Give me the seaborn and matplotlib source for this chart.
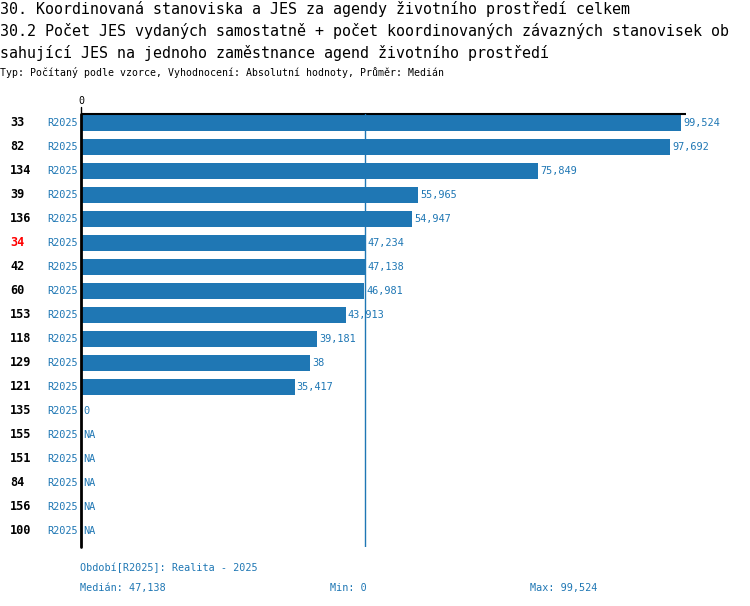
import numpy as np
import pandas as pd
import matplotlib
matplotlib.use("Agg")
import matplotlib.pyplot as plt
import seaborn as sns

# ---- data ----
categories = ["33", "82", "134", "39", "136", "34", "42", "60", "153", "118",
              "129", "121", "135", "155", "151", "84", "156", "100"]
period = "R2025"
values = [99.524, 97.692, 75.849, 55.965, 54.947, 47.234, 47.138, 46.981, 43.913,
          39.181, 38.0, 35.417, 0.0, np.nan, np.nan, np.nan, np.nan, np.nan]
highlight = "34"
median_value = 47.138
min_value = 0
max_value = 99.524

title_lines = [
    "30. Koordinovaná stanoviska a JES za agendy životního prostředí celkem",
    "30.2 Počet JES vydaných samostatně + počet koordinovaných závazných stanovisek ob",
    "sahující JES na jednoho zaměstnance agend životního prostředí",
]
subtitle = "Typ: Počítaný podle vzorce, Vyhodnocení: Absolutní hodnoty, Průměr: Medián"
legend_text = "Období[R2025]: Realita - 2025"

BLUE = "#1f77b4"
W, H = 750, 606


def fmt(v):
    if v is None or (isinstance(v, float) and np.isnan(v)):
        return "NA"
    if float(v).is_integer():
        return str(int(v))
    return f"{v:.3f}".rstrip("0").rstrip(".").replace(".", ",")


sns.set_theme(style="white")
plt.rcParams["font.family"] = ["DejaVu Sans Mono", "DejaVu Sans"]

fig = plt.figure(figsize=(W / 100, H / 100), dpi=100)

# axes in pixel geometry
left_px, right_px, top_px, bot_px = 81, 731, 114, 546.7
ax = fig.add_axes([left_px / W, 1 - bot_px / H, (right_px - left_px) / W, (bot_px - top_px) / H])

df = pd.DataFrame({"id": categories, "value": values})
sns.barplot(data=df, x="value", y="id", order=categories, orient="h",
            color=BLUE, saturation=1, width=0.67, errorbar=None, ax=ax,
            linewidth=0, edgecolor="none")

px_per_unit = (681 - 81) / 99.524
xmax = (right_px - left_px) / px_per_unit
row0_px = 122.7
ymin = -(row0_px - top_px) / 24
ymaxv = (bot_px - row0_px) / 24
ax.set_xlim(0, xmax)
ax.set_ylim(ymaxv, ymin)

for s in ax.spines.values():
    s.set_visible(False)
ax.set_xticks([])
ax.set_yticks([])
ax.set_xlabel("")
ax.set_ylabel("")
ax.patch.set_alpha(0)

# axis lines
ax.axvline(0, color="black", lw=2, clip_on=False)
top_end = (686 - 81) / px_per_unit
ax.plot([0, top_end], [ymin, ymin], color="black", lw=1.5, clip_on=False, solid_capstyle="butt")
ax.plot([0, 0], [ymin, ymin - 7 / 24], color="black", lw=1, clip_on=False)
ax.text(0, ymin - 8 / 24, "0", ha="center", va="bottom", fontsize=7.2, color="black")

# median line
ax.axvline(median_value, color=BLUE, lw=1)

# value labels
for i, (c, v) in enumerate(zip(categories, values)):
    xv = 0 if np.isnan(v) else v
    ax.text(xv + 2 / px_per_unit, i, fmt(v), ha="left", va="center",
            fontsize=7.4, color=BLUE)

# row labels
for i, c in enumerate(categories):
    ypx = row0_px + 24 * i
    fig.text(10 / W, 1 - ypx / H, c, ha="left", va="center", fontsize=8.6,
             fontweight="bold", color="red" if c == highlight else "black")
    fig.text(78 / W, 1 - ypx / H, period, ha="right", va="center", fontsize=7.4, color=BLUE)

# titles
for j, line in enumerate(title_lines):
    fig.text(0, 1 - (9 + 22 * j) / H, line, ha="left", va="center", fontsize=10.8, color="black")
fig.text(0, 1 - 73 / H, subtitle, ha="left", va="center", fontsize=7.1, color="black")

# footer
fig.text(80 / W, 1 - 568 / H, legend_text, ha="left", va="center", fontsize=7.3, color=BLUE)
fig.text(80 / W, 1 - 588 / H, "Medián: " + fmt(median_value), ha="left", va="center", fontsize=7.3, color=BLUE)
fig.text(330 / W, 1 - 588 / H, "Min: " + fmt(min_value), ha="left", va="center", fontsize=7.3, color=BLUE)
fig.text(530 / W, 1 - 588 / H, "Max: " + fmt(max_value), ha="left", va="center", fontsize=7.3, color=BLUE)

fig.savefig("out.png", dpi=100, facecolor="white")
